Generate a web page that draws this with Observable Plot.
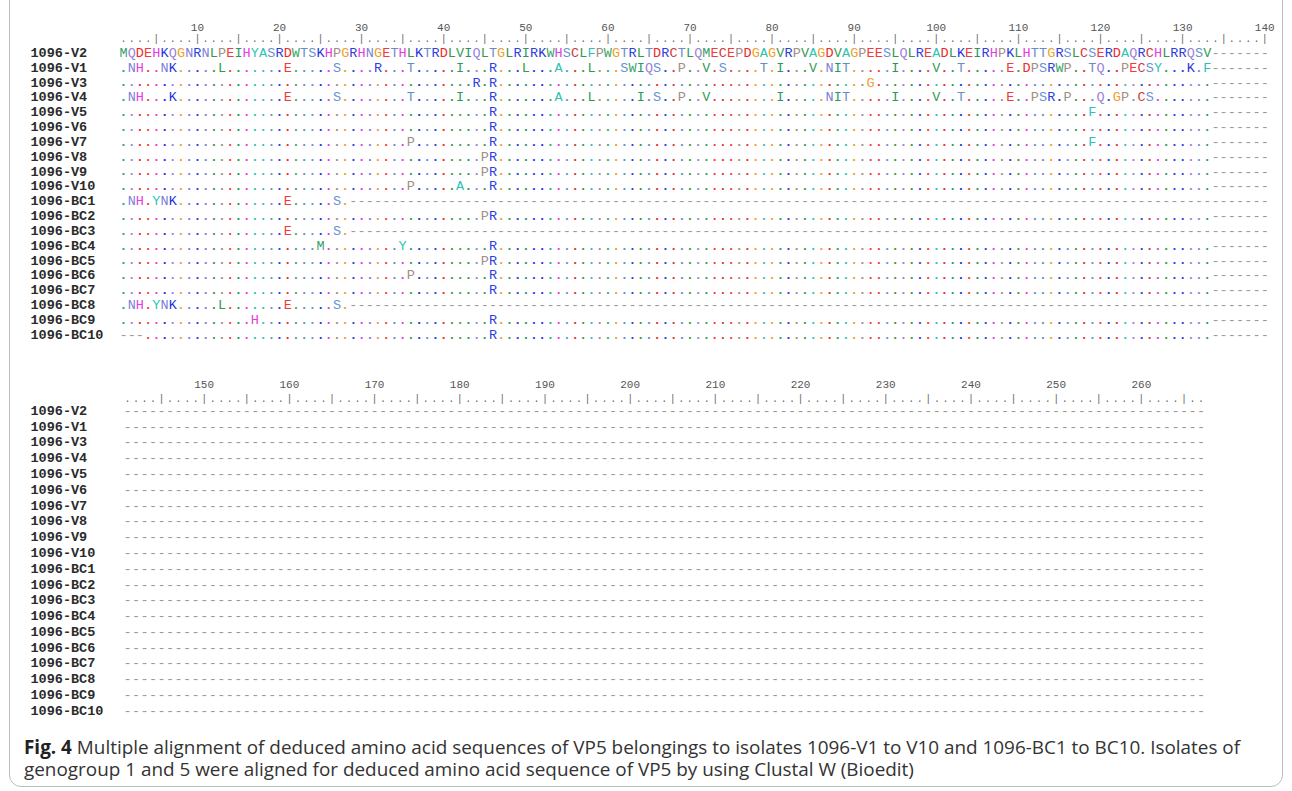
<!DOCTYPE html>
<html>
<head>
<meta charset="utf-8">
<script src="https://cdn.jsdelivr.net/npm/d3@7"></script>
<script src="https://cdn.jsdelivr.net/npm/@observablehq/plot@0.6"></script>
<style>
  html, body { margin: 0; padding: 0; background: #fff; }
  #page { position: relative; width: 1292px; height: 791px; overflow: hidden; background: #fff; }
  #frame { position: absolute; left: 9px; top: -30px; width: 1274px; height: 817px;
           border: 1.5px solid #bdbdbd; border-radius: 12px; box-sizing: border-box; }
  #top { position: absolute; left: 0; top: 0; }
  #bottom { position: absolute; left: 0; top: 350px; }
  #caption { position: absolute; left: 24px; top: 736px; font-family: "Open Sans", sans-serif;
             font-size: 18.9px; line-height: 22px; color: #333; white-space: nowrap; }
  #caption b { color: #222; }
</style>
</head>
<body>
<div id="page">
  <div id="frame"></div>
  <div id="top"></div>
  <div id="bottom"></div>
  <div id="caption"><b>Fig. 4</b> Multiple alignment of deduced amino acid sequences of VP5 belongings to isolates 1096-V1 to V10 and 1096-BC1 to BC10. Isolates of<br>genogroup 1 and 5 were aligned for deduced amino acid sequence of VP5 by using Clustal W (Bioedit)</div>
</div>
<script>
// ---------------- data ----------------
const referenceSequence =
  "MQDEHKQGNR" + "NLPEIHYASR" + "DWTSKHPGRH" + "NGETHLKTRD" + "LVIQLTGLRI" +
  "RKWHSCLFPW" + "GTRLTDRCTL" + "QMECEPDGAG" + "VRPVAGDVAG" + "PEESLQLREA" +
  "DLKEIRHPKL" + "HTTGRSLCSE" + "RDAQRCHLRR" + "QSV";

const rowNames = [
  "1096-V2", "1096-V1", "1096-V3", "1096-V4", "1096-V5", "1096-V6", "1096-V7",
  "1096-V8", "1096-V9", "1096-V10", "1096-BC1", "1096-BC2", "1096-BC3", "1096-BC4",
  "1096-BC5", "1096-BC6", "1096-BC7", "1096-BC8", "1096-BC9", "1096-BC10"
];

// substitutions relative to 1096-V2 (position + residue)
const rowSubstitutions = [
  "",
  "2N 3H 6N 7K 13L 21E 27S 32R 36T 42I 46R 50L 54A 58L 62S 63W 64I 65Q 66S 69P 72V 74S 79T 81I 85V 87N 88I 89T 95I 100V 103T 109E 111D 112P 113S 114R 115W 116P 119T 120Q 123P 124E 125C 126S 127Y 131K 133F",
  "44R 46R 92G",
  "2N 3H 7K 21E 27S 36T 42I 46R 54A 58L 64I 66S 69P 72V 81I 87N 88I 89T 95I 100V 103T 109E 112P 113S 114R 116P 120Q 122G 123P 125C 126S",
  "46R 119F",
  "46R",
  "36P 46R 119F",
  "45P 46R",
  "45P 46R",
  "36P 42A 46R",
  "2N 3H 5Y 6N 7K 21E 27S",
  "45P 46R",
  "21E 27S",
  "25M 35Y 46R",
  "45P 46R",
  "36P 46R",
  "46R",
  "2N 3H 5Y 6N 7K 13L 21E 27S",
  "17H 46R",
  "46R"
];

// first and last aligned residue of every sequence (outside: gaps)
const rowFirstResidue = [1,1,1,1,1,1,1,1,1,1, 1,1,1,1,1,1,1,1,1,4];
const rowLastResidue  = [133,133,133,133,133,133,133,133,133,133, 28,133,28,133,133,133,133,28,133,133];

const alignmentLength = 267;
const topTickLabels = [10, 20, 30, 40, 50, 60, 70, 80, 90, 100, 110, 120, 130, 140];
const bottomTickLabels = [150, 160, 170, 180, 190, 200, 210, 220, 230, 240, 250, 260];

// ---------------- styles ----------------
const residueColors = {
  A: "#2fc4b4", C: "#d2393b", D: "#f02a2a", E: "#f53a3a", F: "#2bbfc2", G: "#f0a02c",
  H: "#e23de2", I: "#2b9661", K: "#2634e0", L: "#36994a", M: "#38a06a", N: "#7b7fd6",
  P: "#a08f86", Q: "#9a84d6", R: "#2d3ee2", S: "#6b92d3", T: "#6a8cc6", V: "#389b56",
  W: "#3ea867", Y: "#2dc6b0"
};
const gapColor = "#9a9a9a";
const mono = "'Liberation Mono', 'DejaVu Sans Mono', monospace";

// ---------------- build cells ----------------
const cells = [];
rowNames.forEach((name, r) => {
  const subs = new Map();
  rowSubstitutions[r].split(" ").filter(Boolean).forEach(s => subs.set(+s.slice(0, -1), s.slice(-1)));
  for (let col = 1; col <= alignmentLength; col++) {
    let ch, color, kind;
    if (col < rowFirstResidue[r] || col > rowLastResidue[r]) {
      ch = "-"; color = gapColor; kind = "gap";
    } else {
      const ref = referenceSequence[col - 1];
      if (r === 0) { ch = ref; color = residueColors[ref]; kind = "res"; }
      else if (subs.has(col)) { ch = subs.get(col); color = residueColors[ch]; kind = "res"; }
      else { ch = "."; color = residueColors[ref]; kind = "dot"; }
    }
    cells.push({row: r, col, ch, color, kind});
  }
});

function block(colStart, colEnd, xRange, yRange, ticks, rulerDy, numberDy, height) {
  const part = cells.filter(d => d.col >= colStart && d.col <= colEnd);
  const rulerCols = d3.range(colStart, colEnd + 1);
  return Plot.plot({
    width: 1292, height, margin: 0,
    style: {background: "transparent", overflow: "visible"},
    x: {domain: [colStart, colEnd], range: xRange, axis: null},
    y: {domain: [0, rowNames.length - 1], range: yRange, axis: null},
    color: {type: "identity"},
    marks: [
      Plot.text(ticks, {x: d => d, y: () => 0, dy: numberDy, text: d => String(d),
        fontFamily: mono, fontSize: 11, fill: "#555"}),
      Plot.text(rulerCols, {x: d => d, y: () => 0, dy: rulerDy, text: d => d % 5 === 0 ? "|" : ".",
        fontFamily: mono, fontSize: 10, fill: "#666"}),
      Plot.text(rowNames, {y: (d, i) => i, frameAnchor: "left", dx: 30, text: d => d,
        textAnchor: "start", fontFamily: mono, fontWeight: "bold", fontSize: 13.5, fill: "#2b2b2b"}),
      Plot.text(part.filter(d => d.kind === "gap"), {x: "col", y: "row", text: "ch", fill: "color",
        fontFamily: mono, fontSize: 13.5}),
      Plot.text(part.filter(d => d.kind === "dot"), {x: "col", y: "row", text: "ch", fill: "color",
        fontFamily: mono, fontSize: 13, fontWeight: "bold"}),
      Plot.text(part.filter(d => d.kind === "res"), {x: "col", y: "row", text: "ch", fill: "color",
        fontFamily: mono, fontSize: 13.5})
    ]
  });
}

document.getElementById("top").append(
  block(1, 140, [123, 1264.2], [52, 334], topTickLabels, -14, -25, 350));
document.getElementById("bottom").append(
  block(141, alignmentLength, [127, 1200.5], [60, 360], bottomTickLabels, -12, -26, 375));
</script>
</body>
</html>
